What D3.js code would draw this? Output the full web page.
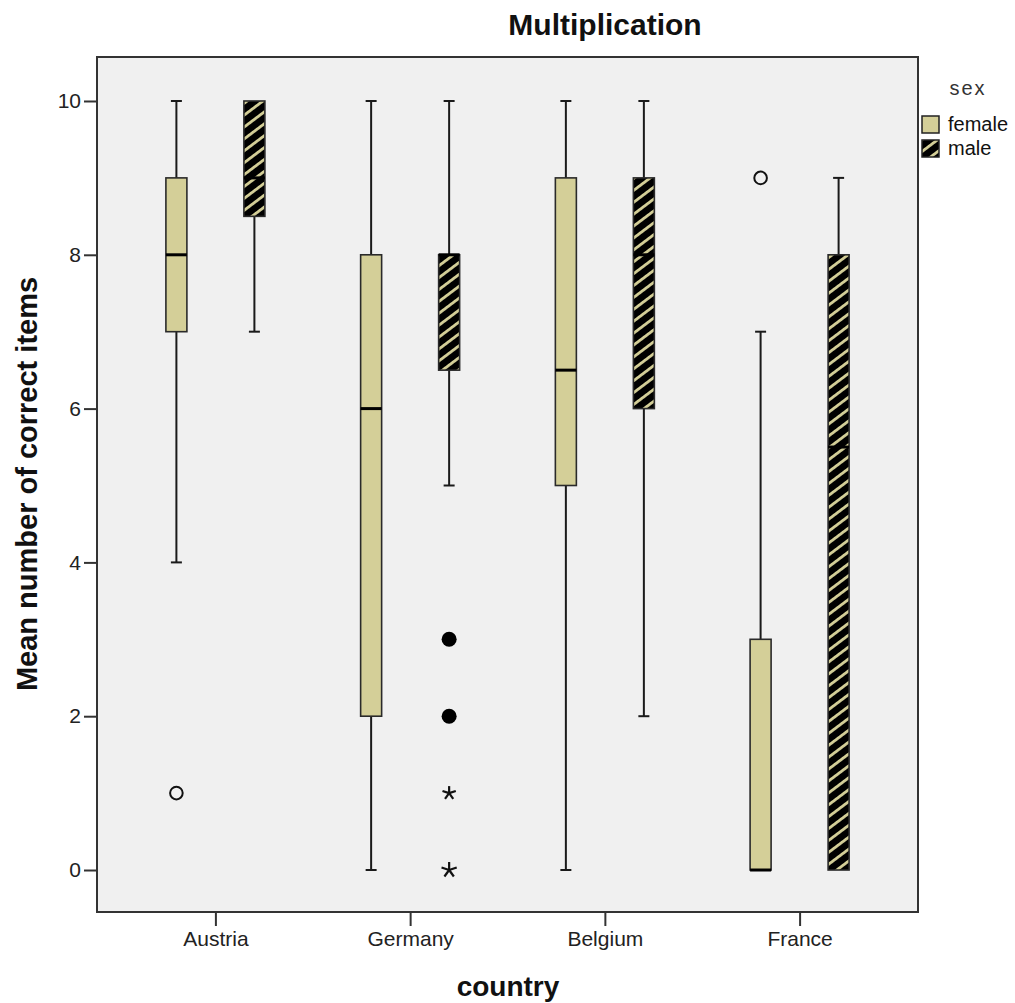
<!DOCTYPE html>
<html><head><meta charset="utf-8">
<script src="https://cdn.jsdelivr.net/npm/d3@7"></script>
<style>body{margin:0;background:#fff}svg{display:block;font-family:"Liberation Sans",Arial,sans-serif}</style>
</head><body>
<svg id="c" width="1015" height="1003"></svg>
<script>
const countries = ["Austria","Germany","Belgium","France"];
const sexes = ["female","male"];
// [country, sex, whiskerLow, q1, median, q3, whiskerHigh]
const boxes = [
  ["Austria","female",4,7,8,9,10],
  ["Austria","male",7,8.5,9,10,10],
  ["Germany","female",0,2,6,8,10],
  ["Germany","male",5,6.5,8,8,10],
  ["Belgium","female",0,5,6.5,9,10],
  ["Belgium","male",2,6,8,9,10],
  ["France","female",0,0,0,3,7],
  ["France","male",0,0,5.5,8,9]
];
// outliers: [country, sex, value, type]
const outliers = [
  ["Austria","female",1,"open"],
  ["Germany","male",3,"filled"],
  ["Germany","male",2,"filled"],
  ["Germany","male",1,"star"],
  ["Germany","male",0,"star"],
  ["France","female",9,"open"]
];
const yTicks = [0,2,4,6,8,10];

const svg = d3.select("#c");
const L=97,R=918,T=57,B=912;
const y = d3.scaleLinear().domain([-0.546,10.572]).range([B,T]);
const x = d3.scalePoint().domain(countries).range([L,R]).padding(0.608);
const xs = d3.scalePoint().domain(sexes).range([-39,39]);
const bw = 21, capW = 11;
const khaki = "#d4cf98";

const defs = svg.append("defs");
const pw = 9.5;
const pat = defs.append("pattern").attr("id","hatch").attr("patternUnits","userSpaceOnUse")
  .attr("width",pw).attr("height",pw).attr("patternTransform","rotate(-37)");
pat.append("rect").attr("width",pw).attr("height",pw).attr("fill","#000");
pat.append("rect").attr("x",0).attr("y",0).attr("width",pw).attr("height",2.8).attr("fill",khaki);

svg.append("rect").attr("x",L).attr("y",T).attr("width",R-L).attr("height",B-T).attr("fill","#f0f0f0");

const cx = d => x(d[0]) + xs(d[1]);
const g = svg.append("g");
boxes.forEach(d=>{
  const c = cx(d);
  const [lo,q1,med,q3,hi] = d.slice(2);
  const st = "#1a1a1a";
  if (hi>q3){
    g.append("line").attr("x1",c).attr("x2",c).attr("y1",y(q3)).attr("y2",y(hi)).attr("stroke",st).attr("stroke-width",2);
    g.append("line").attr("x1",c-capW/2).attr("x2",c+capW/2).attr("y1",y(hi)).attr("y2",y(hi)).attr("stroke",st).attr("stroke-width",2);
  }
  if (lo<q1){
    g.append("line").attr("x1",c).attr("x2",c).attr("y1",y(q1)).attr("y2",y(lo)).attr("stroke",st).attr("stroke-width",2);
    g.append("line").attr("x1",c-capW/2).attr("x2",c+capW/2).attr("y1",y(lo)).attr("y2",y(lo)).attr("stroke",st).attr("stroke-width",2);
  }
  g.append("rect").attr("x",c-bw/2).attr("y",y(q3)).attr("width",bw).attr("height",Math.max(1,y(q1)-y(q3)))
    .attr("fill", d[1]==="male" ? "url(#hatch)" : khaki).attr("stroke","#2a2a2a").attr("stroke-width",1.6);
  g.append("line").attr("x1",c-bw/2).attr("x2",c+bw/2).attr("y1",y(med)).attr("y2",y(med)).attr("stroke","#000").attr("stroke-width",3);
});

outliers.forEach(d=>{
  const c = cx(d), yy = y(d[2]);
  if (d[3]==="open") g.append("circle").attr("cx",c).attr("cy",yy).attr("r",6.3).attr("fill","none").attr("stroke","#111").attr("stroke-width",2);
  else if (d[3]==="filled") g.append("circle").attr("cx",c).attr("cy",yy).attr("r",7.5).attr("fill","#000");
  else {
    const r = d[2]===0 ? 8 : 7;
    for(let i=0;i<5;i++){
      const a=-Math.PI/2+i*2*Math.PI/5;
      g.append("line").attr("x1",c).attr("y1",yy).attr("x2",c+r*Math.cos(a)).attr("y2",yy+r*Math.sin(a)).attr("stroke","#111").attr("stroke-width",2.2);
    }
  }
});

svg.append("rect").attr("x",L).attr("y",T).attr("width",R-L).attr("height",B-T).attr("fill","none").attr("stroke","#333").attr("stroke-width",2);

const ya = svg.append("g").attr("transform",`translate(${L},0)`).call(d3.axisLeft(y).tickValues(yTicks).tickSize(13).tickPadding(3).tickFormat(d3.format("d")));
ya.select(".domain").remove();
ya.selectAll("line").attr("stroke","#333").attr("stroke-width",2);
ya.selectAll("text").attr("font-size",21).attr("fill","#222").attr("font-family","Liberation Sans, Arial, sans-serif");

const xa = svg.append("g").attr("transform",`translate(0,${B})`).call(d3.axisBottom(x).tickSize(14).tickPadding(5));
xa.select(".domain").remove();
xa.selectAll("line").attr("stroke","#333").attr("stroke-width",2);
xa.selectAll("text").attr("font-size",21).attr("fill","#222").attr("font-family","Liberation Sans, Arial, sans-serif");

svg.append("text").attr("x",605).attr("y",35).attr("text-anchor","middle").attr("font-size",30).attr("font-weight","bold").attr("fill","#111").text("Multiplication");
svg.append("text").attr("x",508).attr("y",996).attr("text-anchor","middle").attr("font-size",28).attr("font-weight","bold").attr("fill","#111").text("country");
svg.append("text").attr("transform","translate(37,484) rotate(-90)").attr("text-anchor","middle").attr("font-size",29).attr("font-weight","bold").attr("fill","#111").text("Mean number of correct items");

const lg = svg.append("g");
lg.append("text").attr("x",968).attr("y",95).attr("text-anchor","middle").attr("font-size",20).attr("letter-spacing",2).attr("fill","#333").text("sex");
sexes.forEach((s,i)=>{
  const yy = 116 + i*24;
  lg.append("rect").attr("x",922).attr("y",yy).attr("width",17).attr("height",17)
    .attr("fill", s==="male" ? "url(#hatch)" : khaki).attr("stroke","#222").attr("stroke-width",1.5);
  lg.append("text").attr("x",948).attr("y",yy+15).attr("font-size",20).attr("fill","#111").text(s);
});
</script>
</body></html>
